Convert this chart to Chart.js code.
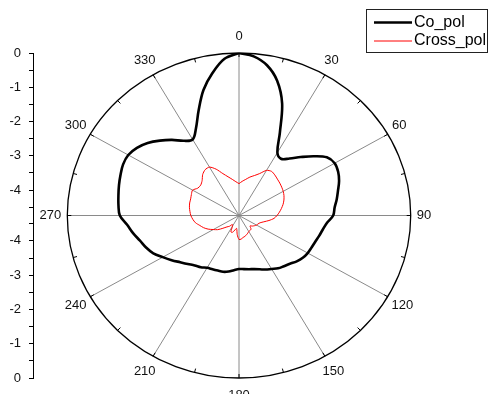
<!DOCTYPE html>
<html>
<head>
<meta charset="utf-8">
<style>
  html, body { margin: 0; padding: 0; background: #fff; }
  #wrap { width: 488px; height: 394px; position: relative; }
  canvas { display: block; }
</style>
<script src="https://cdn.jsdelivr.net/npm/chart.js"></script>
</head>
<body>
<div id="wrap"><canvas id="chart" width="488" height="394"></canvas></div>
<script>
// Azimuth angles in degrees, clockwise from the top
const angles = [
    0,   5,  10,  15,  20,  25,  30,  35,  40,  45,  50,  55,
   60,  65,  70,  75,  80,  85,  90,  95, 100, 105, 110, 115,
  120, 125, 130, 135, 140, 145, 150, 155, 160, 165, 170, 175,
  180, 185, 190, 195, 200, 205, 210, 215, 220, 225, 230, 235,
  240, 245, 250, 255, 260, 265, 270, 275, 280, 285, 290, 295,
  300, 305, 310, 315, 320, 325, 330, 335, 340, 345, 350, 355
];

// Co-polar pattern (dB)
const coPol = [
   0.00, -0.08, -0.29, -0.67, -1.26, -2.07, -2.62, -2.72, -2.57, -2.33, -2.05, -1.78,
  -1.69, -1.72, -1.80, -1.91, -2.00, -2.09, -2.14, -2.30, -2.39, -2.45, -2.50, -2.53,
  -2.55, -2.59, -2.66, -2.75, -2.81, -2.86, -2.94, -3.00, -3.07, -3.12, -3.15, -3.17,
  -3.18, -3.14, -3.08, -3.04, -3.03, -3.01, -2.98, -2.90, -2.84, -2.74, -2.62, -2.47,
  -2.31, -2.13, -2.01, -1.91, -1.77, -1.64, -1.45, -1.40, -1.36, -1.31, -1.26, -1.21,
  -1.21, -1.30, -1.45, -1.65, -1.86, -2.08, -2.18, -1.93, -1.48, -0.95, -0.52, -0.15
];

// Cross-polar pattern (dB)
const crossPol = [
  -3.81, -3.74, -3.67, -3.58, -3.50, -3.39, -3.22, -3.17, -3.20, -3.24, -3.27, -3.30,
  -3.33, -3.37, -3.42, -3.48, -3.55, -3.62, -3.69, -3.77, -3.90, -4.03, -4.12, -4.16,
  -4.18, -4.22, -4.26, -4.31, -4.22, -4.21, -4.20, -4.17, -4.14, -4.11, -4.09, -4.05,
  -4.04, -4.18, -4.36, -4.30, -4.22, -4.21, -4.38, -4.42, -4.33, -4.27, -4.16, -4.02,
  -3.92, -3.80, -3.70, -3.62, -3.52, -3.46, -3.41, -3.38, -3.35, -3.33, -3.32, -3.29,
  -3.26, -3.35, -3.36, -3.30, -3.18, -3.11, -3.11, -3.25, -3.44, -3.57, -3.67, -3.75
];

// Angular tick labels (every 30 degrees) and radial tick labels (dB)
const angleTicks = [0, 30, 60, 90, 120, 150, 180, 210, 240, 270, 300, 330];
const radialTicks = [0, -1, -2, -3, -4];

// Radial range: centre of the plot sits at R_MIN, outer ring at R_MAX
const R_MIN = -4.74;
const R_MAX = 0;
const SPAN = R_MAX - R_MIN;

const FONT = 'Liberation Sans, Arial, sans-serif';

// Convert a polar pattern into x/y pairs (radius measured from R_MIN)
function toXY(degs, vals) {
  const pts = degs.map((a, i) => {
    const r = vals[i] - R_MIN;
    const t = a * Math.PI / 180;
    return { x: r * Math.sin(t), y: r * Math.cos(t) };
  });
  pts.push({ ...pts[0] });
  return pts;
}

// Ring, spokes, angular ticks and labels, legend box
const polarFrame = {
  id: 'polarFrame',
  geom(chart) {
    const xs = chart.scales.x, ys = chart.scales.y;
    const cx = xs.getPixelForValue(0), cy = ys.getPixelForValue(0);
    const rx = xs.getPixelForValue(SPAN) - cx;
    const ry = cy - ys.getPixelForValue(SPAN);
    return { cx, cy, rx, ry };
  },
  beforeDatasetsDraw(chart) {
    const ctx = chart.ctx;
    const { cx, cy, rx, ry } = this.geom(chart);
    ctx.save();
    // spokes
    ctx.strokeStyle = '#8a8a8a';
    ctx.lineWidth = 1;
    angleTicks.forEach(a => {
      const t = a * Math.PI / 180;
      ctx.beginPath();
      ctx.moveTo(cx, cy);
      ctx.lineTo(cx + rx * Math.sin(t), cy - ry * Math.cos(t));
      ctx.stroke();
    });
    // outer ring
    ctx.strokeStyle = '#000';
    ctx.lineWidth = 1.3;
    ctx.beginPath();
    ctx.ellipse(cx, cy, rx, ry, 0, 0, Math.PI * 2);
    ctx.stroke();
    // inward ticks every 15 degrees
    ctx.lineWidth = 1;
    for (let a = 0; a < 360; a += 15) {
      const t = a * Math.PI / 180;
      const s = Math.sin(t), c = Math.cos(t);
      ctx.beginPath();
      ctx.moveTo(cx + rx * s, cy - ry * c);
      ctx.lineTo(cx + (rx - 4) * s, cy - (ry - 4) * c);
      ctx.stroke();
    }
    ctx.restore();
  },
  afterDraw(chart) {
    const ctx = chart.ctx;
    const { cx, cy, rx, ry } = this.geom(chart);
    ctx.save();
    // angular labels
    ctx.font = '13px ' + FONT;
    ctx.fillStyle = '#111';
    ctx.textAlign = 'center';
    ctx.textBaseline = 'middle';
    angleTicks.forEach(a => {
      const txt = String(a);
      const w = ctx.measureText(txt).width;
      const t = a * Math.PI / 180;
      const x = cx + (rx + 6 + w / 2) * Math.sin(t);
      const y = cy - (ry + 17) * Math.cos(t);
      ctx.fillText(txt, x, y);
    });
    // legend
    const box = { l: 366.5, t: 9.5, w: 121, h: 43 };
    ctx.strokeStyle = '#222';
    ctx.lineWidth = 1;
    ctx.strokeRect(box.l, box.t, box.w, box.h);
    ctx.font = '16px ' + FONT;
    ctx.textAlign = 'left';
    ctx.fillStyle = '#000';
    const rows = [22.5, 41];
    chart.data.datasets.forEach((ds, i) => {
      const y = rows[i];
      ctx.strokeStyle = ds.borderColor;
      ctx.lineWidth = ds.borderWidth;
      ctx.beginPath();
      ctx.moveTo(374, y);
      ctx.lineTo(412, y);
      ctx.stroke();
      ctx.fillText(ds.label, 414, y);
    });
    ctx.restore();
  }
};

// Pixel layout of the plot frame
const AXIS_X = 33;       // left radial axis position
const CENTER_X = 239;    // horizontal centre of the polar ring
const RING_RX = 171.7;   // horizontal ring radius in pixels
const CANVAS_W = 488;

new Chart(document.getElementById('chart'), {
  type: 'scatter',
  data: {
    datasets: [
      {
        label: 'Co_pol',
        data: toXY(angles, coPol),
        showLine: true,
        borderColor: '#000000',
        borderWidth: 2.6,
        pointRadius: 0,
        tension: 0.35,
        fill: false
      },
      {
        label: 'Cross_pol',
        data: toXY(angles, crossPol),
        showLine: true,
        borderColor: '#ff0000',
        borderWidth: 1,
        pointRadius: 0,
        tension: 0.25,
        fill: false
      }
    ]
  },
  options: {
    responsive: false,
    animation: false,
    devicePixelRatio: 1,
    layout: { padding: { top: 53, bottom: 16, left: 0, right: 0 } },
    plugins: { legend: { display: false }, tooltip: { enabled: false } },
    scales: {
      x: {
        type: 'linear',
        display: false,
        min: -SPAN * (CENTER_X - AXIS_X) / RING_RX,
        max: SPAN * (CANVAS_W - CENTER_X) / RING_RX
      },
      y: {
        type: 'linear',
        position: 'left',
        min: -SPAN,
        max: SPAN,
        afterFit(scale) { scale.width = AXIS_X; },
        afterBuildTicks(scale) {
          const t = [];
          radialTicks.forEach(v => {
            const d = v - R_MIN;
            t.push({ value: d }, { value: -d });
            const m = v - 0.5 - R_MIN;
            if (m > 0) t.push({ value: m, minor: true }, { value: -m, minor: true });
          });
          t.sort((a, b) => a.value - b.value);
          scale.ticks = t;
        },
        grid: {
          drawOnChartArea: false,
          drawTicks: true,
          tickLength: 4,
          tickColor: '#000',
          tickWidth: 1
        },
        border: { display: true, color: '#000', width: 1 },
        ticks: {
          autoSkip: false,
          padding: 8,
          color: '#111',
          font: { family: FONT, size: 13 },
          callback(value) {
            const v = R_MIN + Math.abs(value);
            const k = Math.round(v);
            return Math.abs(v - k) < 0.01 ? String(k === 0 ? 0 : k) : '';
          }
        }
      }
    }
  },
  plugins: [polarFrame]
});
</script>
</body>
</html>
